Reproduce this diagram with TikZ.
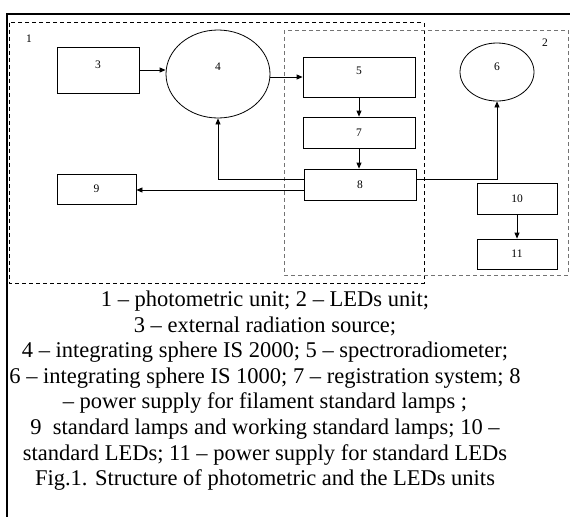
\documentclass[tikz,border=0pt]{standalone}
\usepackage{fontspec}
\setmainfont{Liberation Serif}
\usetikzlibrary{arrows.meta,shapes.geometric}
\begin{document}
\begin{tikzpicture}[x=1pt,y=-1pt,
  numfont/.style={font=\fontsize{11.5}{13}\selectfont},
  blk/.style={draw, line width=0.8pt, inner sep=0pt, numfont},
  sph/.style={draw, ellipse, line width=0.8pt, inner sep=0pt, numfont},
  arr/.style={line width=0.8pt, -{Triangle[length=6pt,width=5pt]}},
  conn/.style={line width=0.8pt},
  unitA/.style={draw=black, line width=0.7pt, dash pattern=on 4pt off 3pt},
  unitB/.style={draw=black!55, line width=0.7pt, dash pattern=on 4pt off 3pt},
  frame/.style={line width=2pt}]
\useasboundingbox (0,0) rectangle (570,517);
% outer frame
\draw[frame] (6,14) -- (570,14);
\draw[frame] (7,13) -- (7,517);
% unit frames
\draw[unitA] (9.5,22.7) rectangle (424,283);
\draw[unitB] (284,30) rectangle (568,275);
\node[numfont] (l1) at (29,39) {1};
\node[numfont] (l2) at (545,43) {2};
% blocks
\node[blk, minimum width=82pt, minimum height=46pt, text height=8pt, text depth=10.5pt] (b3) at (98,70) {3};
\node[sph, minimum width=104pt, minimum height=88pt, text height=8pt, text depth=16pt] (b4) at (218,74) {4};
\node[blk, minimum width=112pt, minimum height=40pt, text height=8pt, text depth=14pt] (b5) at (359,77) {5};
\node[blk, minimum width=112pt, minimum height=31pt] (b7) at (359,132.5) {7};
\node[blk, minimum width=112pt, minimum height=31pt] (b8) at (360,184.5) {8};
\node[blk, minimum width=79pt, minimum height=30pt] (b9) at (96.5,189) {9};
\node[sph, minimum width=74pt, minimum height=58pt, text height=8pt, text depth=12pt] (b6) at (497,72) {6};
\node[blk, minimum width=80pt, minimum height=31pt] (b10) at (517,198.5) {10};
\node[blk, minimum width=80pt, minimum height=30pt] (b11) at (517,254) {11};
% connectors
\draw[arr] (b3.east) -- (b3.east -| b4.west);
\draw[arr] (b4.east |- b5.west) -- (b5.west);
\draw[arr] (b5.south) -- (b7.north);
\draw[arr] (b7.south) -- (b7.south |- b8.north);
\draw[arr] ([yshift=5.5pt]b8.west) -| (b4.south);
\draw[arr] ([yshift=-5.5pt]b8.west) -- ([yshift=-5.5pt]b8.west -| b9.east);
\draw[arr] ([yshift=5.5pt]b8.east) -| (b6.south);
\draw[arr] (b10.south) -- (b11.north);
% caption
\node[font=\fontsize{22.5}{25.6}\selectfont, align=center, anchor=north, inner sep=0pt] (cap) at (265,290.6)
{1 – photometric unit; 2 – LEDs unit;\\
3 – external radiation source;\\
4 – integrating sphere IS 2000; 5 – spectroradiometer;\\
6 – integrating sphere IS 1000; 7 – registration system; 8\\
– power supply for filament standard lamps ;\\
9~~standard lamps and working standard lamps; 10 –\\
standard LEDs; 11 – power supply for standard LEDs\\
Fig.1. Structure of photometric and the LEDs units};
\end{tikzpicture}
\end{document}
